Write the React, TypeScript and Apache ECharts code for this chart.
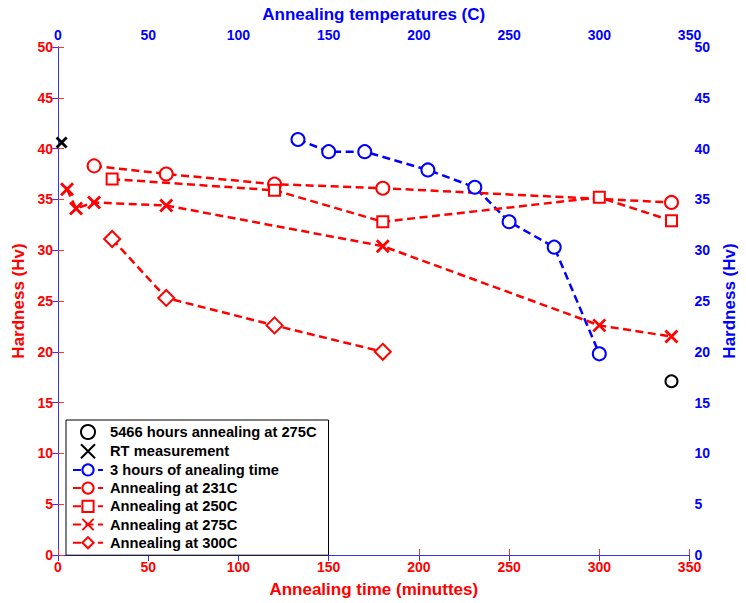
import React, { useEffect, useRef } from "react";
import * as echarts from "echarts";

// ---- data ----
const xTicks = [0, 50, 100, 150, 200, 250, 300, 350];
const rtTime = [2];
const rtHard = [40.6];
const longTime = [340];
const longHard = [17.1];
const tempC = [133, 150, 170, 205, 231, 250, 275, 300];
const hard3h = [40.9, 39.7, 39.7, 37.9, 36.2, 32.8, 30.3, 19.8];
const t231 = [20, 60, 120, 180, 340];
const h231 = [38.3, 37.5, 36.5, 36.1, 34.7];
const t250 = [30, 120, 180, 300, 340];
const h250 = [37.0, 35.9, 32.8, 35.2, 32.9];
const t275 = [5, 10, 20, 60, 180, 300, 340];
const h275 = [36.0, 34.1, 34.7, 34.4, 30.4, 22.6, 21.5];
const t300 = [30, 60, 120, 180];
const h300 = [31.1, 25.3, 22.6, 20.0];

const zip = (a: number[], b: number[]) => a.map((v, i) => [v, b[i]]);

const RED = "#ff0000";
const BLUE = "#0000ff";
const FONT = "'Liberation Sans', Arial, sans-serif";
const CROSS = "path://M0,0L10,10M10,0L0,10";

const axisBase = (color: string, lineColor: string) => ({
  type: "value" as const,
  min: 0,
  axisLine: { show: true, lineStyle: { color: lineColor, width: 1 } },
  axisTick: { show: true, inside: true, length: 6, lineStyle: { color: lineColor } },
  axisLabel: { color, fontSize: 14, fontWeight: "bold", fontFamily: FONT, margin: 5 },
  splitLine: { show: false },
  nameLocation: "middle" as const,
  nameTextStyle: { color, fontSize: 17, fontWeight: "bold", fontFamily: FONT },
});

const lineSeries = (name: string, data: number[][], color: string, symbol: string, size: number, xi = 0, yi = 0) => ({
  name,
  type: "line",
  xAxisIndex: xi,
  yAxisIndex: yi,
  data,
  symbol,
  symbolSize: size,
  showAllSymbol: true,
  lineStyle: { color, width: 2.5, type: [8, 4.5] },
  itemStyle: { color, borderColor: color, borderWidth: 2.8, opacity: 1 },
  emphasis: { disabled: true },
});

export default function App() {
  const ref = useRef<HTMLDivElement>(null);
  useEffect(() => {
    if (!ref.current) return;
    const chart = echarts.init(ref.current, null, { renderer: "svg" });
    chart.setOption({
      animation: false,
      textStyle: { fontFamily: FONT },
      grid: { left: 58, right: 42, top: 47, bottom: 46, containLabel: false },
      xAxis: [
        {
          ...axisBase(RED, "#ff3333"),
          position: "bottom",
          max: xTicks[xTicks.length - 1],
          interval: xTicks[1] - xTicks[0],
          name: "Annealing time (minuttes)",
          nameGap: 26,
        },
        {
          ...axisBase(BLUE, "#3333ff"),
          position: "top",
          max: xTicks[xTicks.length - 1],
          interval: xTicks[1] - xTicks[0],
          name: "Annealing temperatures (C)",
          nameGap: 23,
        },
      ],
      yAxis: [
        {
          ...axisBase(RED, "#ff3333"),
          position: "left",
          max: 50,
          interval: 5,
          name: "Hardness (Hv)",
          nameGap: 30,
        },
        {
          ...axisBase(BLUE, "#3333ff"),
          position: "right",
          max: 50,
          interval: 5,
          name: "Hardness (Hv)",
          nameGap: 29,
        },
      ],
      legend: {
        orient: "vertical",
        left: 66,
        top: 420,
        backgroundColor: "#ffffff",
        borderColor: "#000000",
        borderWidth: 1,
        borderRadius: 0,
        padding: [4, 12, 5, 6],
        itemWidth: 30,
        itemHeight: 14,
        itemGap: 3.2,
        textStyle: { color: "#000", fontSize: 14.7, fontWeight: "bold", fontFamily: FONT, lineHeight: 14, padding: [0, 0, 0, 2] },
        data: [
          "5466 hours annealing at 275C",
          "RT measurement",
          "3 hours of anealing time",
          "Annealing at 231C",
          "Annealing at 250C",
          "Annealing at 275C",
          "Annealing at 300C",
        ],
      },
      series: [
        {
          name: "5466 hours annealing at 275C",
          type: "scatter",
          data: zip(longTime, longHard),
          symbol: "emptyCircle",
          symbolSize: 12,
          itemStyle: { color: "#000", borderColor: "#000", borderWidth: 2.8, opacity: 1 },
          emphasis: { disabled: true },
        },
        {
          name: "RT measurement",
          type: "scatter",
          data: zip(rtTime, rtHard),
          symbol: CROSS,
          symbolSize: 10,
          itemStyle: { color: "#000", borderColor: "#000", borderWidth: 2.8, opacity: 1 },
          emphasis: { disabled: true },
        },
        lineSeries("3 hours of anealing time", zip(tempC, hard3h), BLUE, "emptyCircle", 13, 1, 1),
        lineSeries("Annealing at 231C", zip(t231, h231), RED, "emptyCircle", 13),
        lineSeries("Annealing at 250C", zip(t250, h250), RED, "emptyRect", 11),
        lineSeries("Annealing at 275C", zip(t275, h275), RED, CROSS, 12),
        lineSeries("Annealing at 300C", zip(t300, h300), RED, "emptyDiamond", 16),
      ],
    });
    return () => chart.dispose();
  }, []);
  return <div ref={ref} style={{ position: "fixed", left: 0, top: 0, width: 746, height: 603, background: "#fff" }} />;
}
